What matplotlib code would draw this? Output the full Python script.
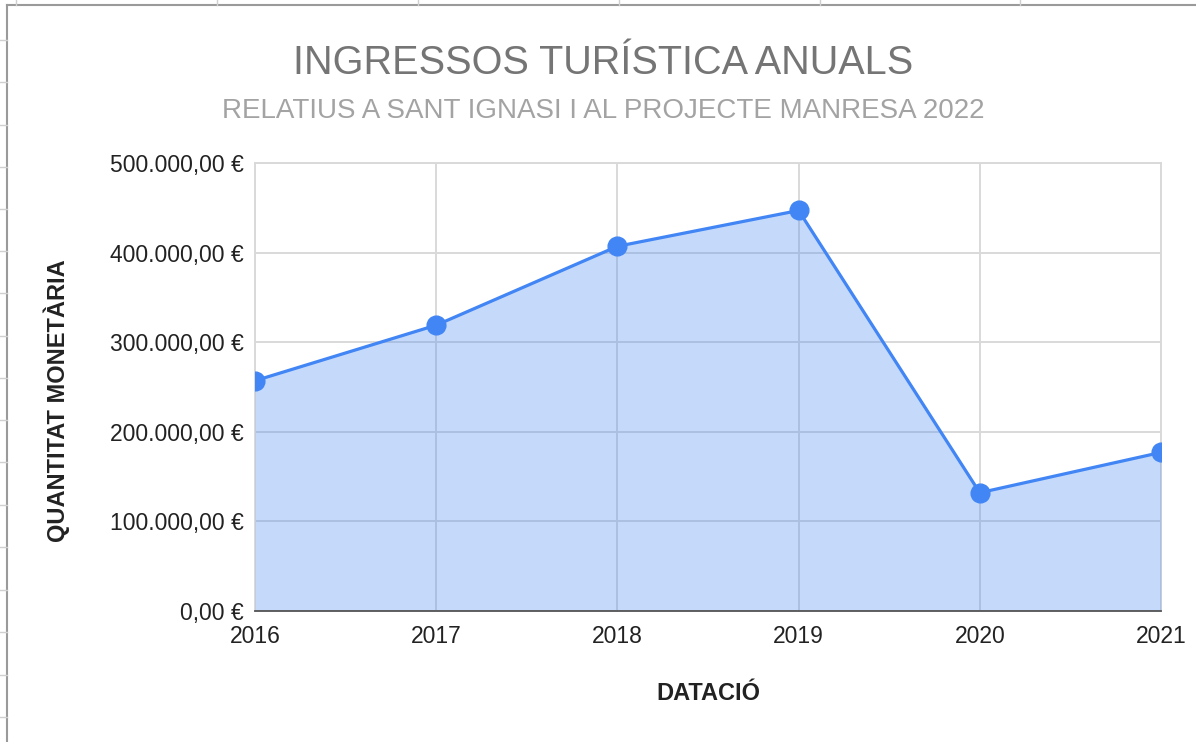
import matplotlib
matplotlib.use("Agg")
import matplotlib.pyplot as plt
from matplotlib.ticker import FuncFormatter, MultipleLocator
from matplotlib.lines import Line2D

# Dades
anys = [2016, 2017, 2018, 2019, 2020, 2021]
ingressos = [257000, 319000, 407000, 447000, 132000, 177000]

titol = "INGRESSOS TURÍSTICA ANUALS"
subtitol = "RELATIUS A SANT IGNASI I AL PROJECTE MANRESA 2022"
etiqueta_x = "DATACIÓ"
etiqueta_y = "QUANTITAT MONETÀRIA"

plt.rcParams["font.family"] = ["Liberation Sans", "DejaVu Sans"]

BLUE = "#4285F4"
GRID = "#d9d9d9"


def euro(v, pos=None):
    s = f"{v:,.2f}"  # 500,000.00
    s = s.replace(",", "X").replace(".", ",").replace("X", ".")
    return f"{s} €"


fig = plt.figure(figsize=(11.96, 7.42), dpi=100)
ax = fig.add_axes([255 / 1196, 1 - 611 / 742, (1161 - 255) / 1196, (611 - 163) / 742])

ax.fill_between(anys, ingressos, 0, color=BLUE, alpha=0.3, zorder=2, linewidth=0)
ax.plot(anys, ingressos, color=BLUE, linewidth=2.3, marker="o", markersize=13.5, zorder=3)

ax.set_xlim(2016, 2021)
ax.set_ylim(0, 500000)
ax.yaxis.set_major_locator(MultipleLocator(100000))
ax.yaxis.set_major_formatter(FuncFormatter(euro))
ax.set_xticks(anys)
ax.set_xticklabels([str(a) for a in anys])

ax.grid(True, color=GRID, linewidth=1.4, zorder=1)
ax.set_axisbelow(True)
for side in ["left", "top", "right"]:
    ax.spines[side].set_color(GRID)
    ax.spines[side].set_linewidth(1.4)
    ax.spines[side].set_zorder(1)
ax.spines["bottom"].set_color("#555555")
ax.spines["bottom"].set_linewidth(1.3)
ax.spines["bottom"].set_zorder(4)

ax.tick_params(axis="both", length=0, labelsize=16.5, colors="#222222")
ax.tick_params(axis="x", pad=10)
ax.tick_params(axis="y", pad=8)

fig.text(708 / 1196, 1 - 693 / 742, etiqueta_x, ha="center", va="center",
         fontsize=17, fontweight="bold", color="#222222")
fig.text(57 / 1196, 1 - 401 / 742, etiqueta_y, ha="center", va="center", rotation=90,
         fontsize=17, fontweight="bold", color="#222222")

fig.text(603 / 1196, 1 - 63 / 742, titol, ha="center", va="center", fontsize=28.5, color="#757575")
fig.text(603 / 1196, 1 - 111 / 742, subtitol, ha="center", va="center", fontsize=20, color="#a3a3a3")

# vora del full de càlcul
fig.add_artist(Line2D([7 / 1196, 1], [1 - 5 / 742, 1 - 5 / 742], color="#9a9a9a", linewidth=1.5))
fig.add_artist(Line2D([7 / 1196, 7 / 1196], [0, 1 - 5 / 742], color="#9a9a9a", linewidth=1.5))
for x in [16, 217, 418, 619, 820, 1020]:
    fig.add_artist(Line2D([x / 1196, x / 1196], [1, 1 - 5 / 742], color="#d0d0d0", linewidth=1))
for y in [40, 82, 125, 167, 209, 251, 293, 336, 378, 420, 462, 505, 547, 590, 632, 675, 717]:
    fig.add_artist(Line2D([0, 7 / 1196], [1 - y / 742, 1 - y / 742], color="#d0d0d0", linewidth=1))

fig.savefig("out.png", dpi=100, facecolor="white")
